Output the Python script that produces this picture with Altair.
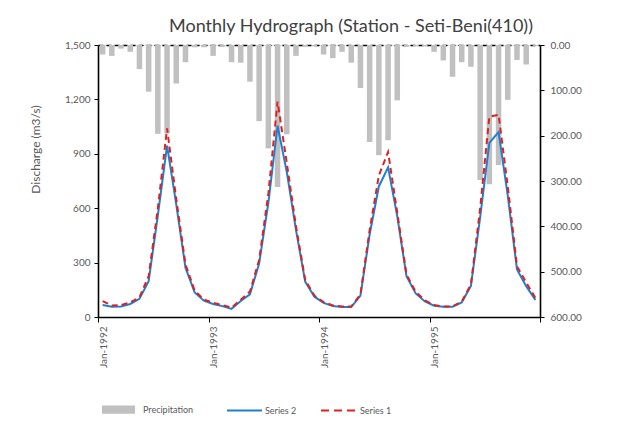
import json
import altair as alt
import pandas as pd

# ---- data (Jan-1992 .. Dec-1995, monthly) ----
series2 = [66, 57, 58, 72, 100, 198, 560, 945, 620, 272, 135, 90,
           72, 60, 45, 88, 125, 295, 630, 1055, 800, 480, 195, 112,
           78, 60, 55, 55, 118, 455, 720, 825, 555, 225, 130, 86,
           62, 56, 56, 80, 172, 550, 960, 1020, 670, 262, 170, 94]
series1 = [88, 64, 66, 80, 108, 225, 600, 1040, 650, 290, 145, 96,
           78, 66, 52, 95, 140, 315, 680, 1188, 850, 500, 205, 118,
           82, 64, 58, 58, 125, 480, 780, 910, 575, 235, 138, 92,
           66, 58, 58, 85, 180, 600, 1105, 1115, 720, 280, 190, 105]
precip = [21, 24, 8, 15, 53, 103, 196, 195, 85, 38, 5, 5,
          24, 4, 38, 39, 81, 168, 228, 313, 197, 24, 4, 3,
          21, 29, 15, 39, 95, 214, 243, 210, 122, 4, 3, 3,
          15, 34, 70, 38, 48, 298, 307, 265, 121, 33, 43, 2]
year_labels = ["Jan-1992", "Jan-1993", "Jan-1994", "Jan-1995", ""]
discharge_ticks = [0, 300, 600, 900, 1200, 1500]
precip_ticks = [0, 100, 200, 300, 400, 500, 600]

n = len(series2)
bars_df = pd.DataFrame({"m": list(range(n)), "p": precip, "series": ["Precipitation"] * n})
lines_df = pd.DataFrame({
    "m": list(range(n)) * 2,
    "q": series2 + series1,
    "series": ["Series 2"] * n + ["Series 1"] * n,
})

FONT = "Lato"
GREY = "#595959"
xscale = alt.Scale(domain=[0, n], nice=False, zero=False)
label_expr = json.dumps(year_labels) + "[round(datum.value/12)]"


def x_axis():
    return alt.Axis(orient="bottom", values=[0, 12, 24, 36, 48], labelExpr=label_expr,
                    labelAngle=270, labelOffset=5, title=None, grid=False,
                    domainColor="#000000", domainWidth=1.6, tickColor="#000000",
                    tickSize=5, labelColor=GREY, labelFont=FONT, labelFontSize=10,
                    labelPadding=4)


def y_axis():
    return alt.Axis(orient="left", values=discharge_ticks, format=",.0f",
                    title="Discharge (m3/s)", grid=False, domainColor="#000000",
                    domainWidth=1.6, tickColor="#000000", tickSize=4, labelPadding=4,
                    labelColor=GREY, labelFont=FONT, labelFontSize=10,
                    titleColor=GREY, titleFont=FONT, titleFontSize=12,
                    titleFontWeight="normal", titleX=-63, titleY=104,
                    titleAlign="center", titleBaseline="middle")


bars = alt.Chart(bars_df).transform_calculate(
    x1="datum.m + 0.2", x2="datum.m + 0.8", p0="0"
).mark_bar().encode(
    x=alt.X("x1:Q", scale=xscale,
            axis=alt.Axis(orient="top", labels=False, ticks=False, grid=False, title=None,
                          domainColor="#000000", domainWidth=1.3, domainDash=[5, 3])),
    x2="x2:Q",
    y=alt.Y("p:Q", scale=alt.Scale(domain=[0, 600], reverse=True, nice=False),
            axis=alt.Axis(orient="right", values=precip_ticks, format=".2f", title=None,
                          grid=False, domainColor="#000000", domainWidth=1.6,
                          tickColor="#000000", tickSize=4, labelPadding=6,
                          labelColor=GREY, labelFont=FONT, labelFontSize=10)),
    y2="p0:Q",
    color=alt.Color("series:N", scale=alt.Scale(domain=["Precipitation"], range=["#c0c0c0"]),
                    legend=alt.Legend(title=None, orient="none", legendX=4, legendY=348,
                                      symbolType="M-1,-0.25L1,-0.25L1,0.25L-1,0.25Z",
                                      symbolSize=1089, symbolStrokeWidth=0, labelOffset=8,
                                      labelColor=GREY, labelFont=FONT, labelFontSize=9,
                                      padding=0)),
)

blue = alt.Chart(lines_df).transform_filter(
    alt.datum.series == "Series 2"
).transform_calculate(xc="datum.m + 0.5").mark_line(strokeWidth=2).encode(
    x=alt.X("xc:Q", scale=xscale, axis=x_axis()),
    y=alt.Y("q:Q", scale=alt.Scale(domain=[0, 1500], nice=False), axis=y_axis()),
    color=alt.Color("series:N", scale=alt.Scale(domain=["Series 2"], range=["#1f7fd0"]),
                    legend=alt.Legend(title=None, orient="none", legendX=128, legendY=347,
                                      symbolType="stroke", symbolSize=1225,
                                      symbolStrokeWidth=2, labelOffset=2,
                                      labelColor=GREY, labelFont=FONT, labelFontSize=9,
                                      padding=0)),
)

red = alt.Chart(lines_df).transform_filter(
    alt.datum.series == "Series 1"
).transform_calculate(xc="datum.m + 0.5").mark_line(strokeWidth=2, strokeDash=[6, 4]).encode(
    x=alt.X("xc:Q", scale=xscale, axis=x_axis()),
    y=alt.Y("q:Q", scale=alt.Scale(domain=[0, 1500], nice=False), axis=y_axis()),
    color=alt.Color("series:N", scale=alt.Scale(domain=["Series 1"], range=["#e0201f"]),
                    legend=alt.Legend(title=None, orient="none", legendX=222, legendY=347,
                                      symbolType="stroke", symbolSize=1225,
                                      symbolStrokeWidth=2, symbolDash=[8, 5], labelOffset=3,
                                      labelColor=GREY, labelFont=FONT, labelFontSize=9,
                                      padding=0)),
)

lines = alt.layer(blue, red).resolve_scale(color="independent")

chart = alt.layer(bars, lines).resolve_scale(
    y="independent", color="independent"
).resolve_axis(x="independent", y="independent").properties(
    width=442, height=272,
    autosize=alt.AutoSizeParams(type="none"),
    padding={"left": 90, "top": 37, "right": 60, "bottom": 100},
    title=alt.TitleParams("Monthly Hydrograph (Station - Seti-Beni(410))", font=FONT,
                          fontSize=18, fontWeight="normal", color="#404040",
                          anchor="middle", dx=32, offset=4),
).configure_view(strokeWidth=0).configure(background="white")

chart.save("out.html", embed_options={"renderer": "svg", "actions": False})
